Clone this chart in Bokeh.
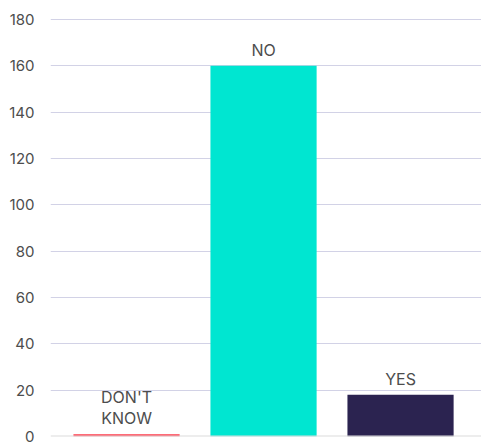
from bokeh.plotting import figure
from bokeh.models import Range1d, Span, ColumnDataSource, FixedTicker
from bokeh.core.properties import value
from bokeh.embed import file_html
from bokeh.resources import INLINE

categories = ["DON'T KNOW", "NO", "YES"]
labels = ["DON'T\nKNOW", "NO", "YES"]
counts = [1, 160, 18]
colors = ["#ff3a4a", "#00e6d1", "#2b2350"]
y_ticks = [0, 20, 40, 60, 80, 100, 120, 140, 160, 180]

FONT = "Inter"

positions = list(range(len(categories)))
source = ColumnDataSource(dict(x=positions, cat=categories, count=counts, color=colors, label=labels))

p = figure(
    x_range=Range1d(-0.555, 2.591),
    y_range=Range1d(0, 180.86),
    width=481, height=445,
    output_backend="svg", toolbar_location=None,
    min_border_left=50, min_border_right=0, min_border_top=17, min_border_bottom=9,
)
p.outline_line_color = None
p.background_fill_color = "white"
p.border_fill_color = "white"

p.vbar(x="x", top="count", width=0.775, color="color", source=source, line_color=None)

p.text(x="x", y="count", text="label", source=source,
       text_align="center", text_baseline="bottom", y_offset=-6,
       text_font=value(FONT), text_font_size="16px", text_color="#4d4d4d",
       text_line_height=1.05)

p.xaxis.visible = False
p.xgrid.grid_line_color = None
p.ygrid.grid_line_color = "#d2d2e6"
p.ygrid.grid_line_width = 1

p.yaxis.ticker = FixedTicker(ticks=y_ticks)
p.yaxis.axis_line_color = None
p.yaxis.major_tick_line_color = None
p.yaxis.minor_tick_line_color = None
p.yaxis.major_label_standoff = 10
p.yaxis.major_label_text_font = FONT
p.yaxis.major_label_text_font_size = "15px"
p.yaxis.major_label_text_color = "#4d4d4d"

p.add_layout(Span(location=0, dimension="width", line_color="#dcdcdc", line_width=2))

open("out.html", "w").write(file_html(p, INLINE))
